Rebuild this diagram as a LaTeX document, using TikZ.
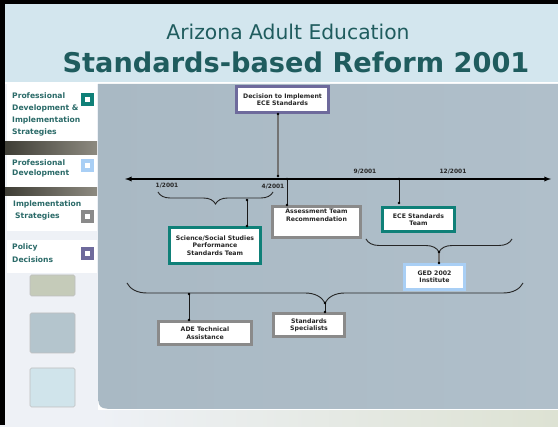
\documentclass[tikz,border=0pt]{standalone}
\usepackage{fontspec}
\setmainfont{DejaVu Sans}
\usepackage{tikz}
\usetikzlibrary{calc,positioning,decorations.pathreplacing,arrows}
\definecolor{titlebg}{HTML}{D3E6EE}
\definecolor{titletxt}{HTML}{1F5C5E}
\definecolor{sidetxt}{HTML}{2A6A68}
\definecolor{sidebg}{HTML}{EEF1F6}
\definecolor{floorbg}{HTML}{DDE2D3}
\definecolor{panelA}{HTML}{A9B9C4}
\definecolor{panelB}{HTML}{BBCAD4}
\definecolor{panelC}{HTML}{B0BFCA}
\definecolor{bandA}{HTML}{3F3E36}
\definecolor{bandB}{HTML}{8D8A80}
\definecolor{pdteal}{HTML}{0F8078}
\definecolor{pdblue}{HTML}{A9CFF5}
\definecolor{isgray}{HTML}{8A8A8A}
\definecolor{pdpurple}{HTML}{6E6A9C}
\definecolor{sqA}{HTML}{C5CBB9}
\definecolor{sqB}{HTML}{B4C5CD}
\definecolor{sqC}{HTML}{D0E4EB}
\tikzset{
  box/.style={draw, fill=white, line width=3pt, align=center, inner sep=1pt,
    font=\fontsize{6.2}{7.4}\selectfont\bfseries, text=black!85},
  date/.style={font=\fontsize{5.9}{7}\selectfont\bfseries, text=black!85, inner sep=0pt},
  conn/.style={line width=1pt, draw=black!90},
  gconn/.style={line width=1.8pt, draw=black!55},
  brc/.style={decorate, decoration={brace, mirror, amplitude=#1}, line width=0.9pt, draw=black!85},
  sidetext/.style={anchor=north west, align=left, inner sep=0pt, text=sidetxt},
  sqmark/.style={draw=#1, fill=white, line width=4pt, minimum size=9pt, inner sep=0pt},
  sidesq/.style={fill=#1, draw=black!25, line width=0.6pt, rounded corners=1.5pt}
}
\begin{document}
\begin{tikzpicture}[x=1pt,y=-1pt]
  \useasboundingbox (0,0) rectangle (558,427);
  % background and frame
  \fill[white] (0,0) rectangle (558,427);
  \fill[titlebg] (0,0) rectangle (558,82);
  \fill[sidebg] (0,84) rectangle (98,427);
  \shade[left color=sidebg, right color=floorbg] (98,411) rectangle (558,427);
  \shade[left color=panelA, middle color=panelB, right color=panelC]
    (98,84) -- (98,389) .. controls (98,409) and (98,409) .. (118,409) -- (558,409) -- (558,84) -- cycle;
  \fill[black] (0,0) rectangle (5,425);
  \fill[black] (0,0) rectangle (558,4);

  % title
  \node[font=\fontsize{20.3}{24}\selectfont, text=titletxt] (ttl) at (288,32) {Arizona Adult Education};
  \node[font=\fontsize{27.2}{32}\selectfont\bfseries, text=titletxt] (sub) at (296,62) {Standards-based Reform 2001};

  % side bar
  \fill[white] (7,84) rectangle (97,142);
  \shade[left color=bandA, right color=bandB] (5,142) rectangle (97,155);
  \fill[white] (7,155) rectangle (97,188);
  \shade[left color=bandA, right color=bandB] (5,188) rectangle (97,196);
  \fill[white] (7,196) rectangle (97,231);
  \fill[white] (7,240) rectangle (97,273);
  \node[sidetext, font=\fontsize{7.6}{11.7}\selectfont\bfseries] (pdis) at (12,93)
    {Professional\\Development \&\\Implementation\\Strategies};
  \node[sidetext, font=\fontsize{7.6}{10}\selectfont\bfseries] (pd) at (12,160)
    {Professional\\Development};
  \node[sidetext, font=\fontsize{7.6}{12}\selectfont\bfseries] (is) at (13,201)
    {Implementation\\\hspace{2pt}Strategies};
  \node[sidetext, font=\fontsize{7.6}{13}\selectfont\bfseries] (pol) at (12,244)
    {Policy\\Decisions};
  \node[sqmark=pdteal] (m1) at (87.5,99.5) {};
  \node[sqmark=pdblue] (m2) at (87.5,165.5) {};
  \node[sqmark=isgray] (m3) at (87.5,216.5) {};
  \node[sqmark=pdpurple] (m4) at (87.5,254) {};
  \draw[sidesq=sqA] (30,275) rectangle (75,296);
  \draw[sidesq=sqB] (30,313) rectangle (75,353);
  \draw[sidesq=sqC] (30,368) rectangle (75,407);

  % time line
  \coordinate (tl) at (125,179);
  \coordinate (tr) at (551,179);
  \coordinate (tdec) at (278,176);
  \coordinate (t4) at (287,179);
  \coordinate (t9) at (399,179);
  \draw[latex-latex, line width=1.3pt] (tl) -- (tr);
  \node[date] (d1) at (167,186) {1/2001};
  \node[date] (d4) at (273,187) {4/2001};
  \node[date] (d9) at (365,172) {9/2001};
  \node[date] (d12) at (453,172) {12/2001};

  % boxes
  \node[box, draw=pdpurple, minimum width=92pt, minimum height=26pt] (dec) at (282.5,99.5)
    {Decision to Implement\\ECE Standards};
  \node[box, draw=pdteal, minimum width=91pt, minimum height=36pt] (sci) at (215,245.5)
    {Science/Social Studies\\Performance\\Standards Team};
  \node[box, draw=isgray, minimum width=88pt, minimum height=31pt] (ass) at (316.5,222)
    {Assessment Team\\Recommendation\\[6pt]};
  \node[box, draw=pdteal, minimum width=72pt, minimum height=24pt] (ece) at (418.5,219.5)
    {ECE Standards\\Team};
  \node[box, draw=pdblue, minimum width=60pt, minimum height=25pt] (ged) at (434.5,277)
    {GED 2002\\Institute};
  \node[box, draw=isgray, minimum width=93pt, minimum height=23pt] (ade) at (205,333)
    {ADE Technical\\Assistance};
  \node[box, draw=isgray, minimum width=71pt, minimum height=23pt] (spec) at (309,325)
    {Standards\\Specialists};

  % braces
  \coordinate (b1) at (247,200);
  \coordinate (b2) at (439,252);
  \coordinate (b3a) at (189,294);
  \coordinate (b3) at (325,303);
  \draw[brc=12pt] (158,192) -- (273,192);
  \draw[brc=13pt] (366,239) -- (512,239);
  \draw[brc=20pt] (127,283) -- (523,283);

  % connectors
  \draw[gconn] (dec.south -| tdec) -- (tdec);
  \draw[conn] (t4) -- (ass.north -| t4);
  \draw[conn] (t9) -- ($(ece.north -| t9)+(0,-3)$);
  \draw[conn] (b1) -- (sci.north -| b1);
  \draw[gconn] (b2) -- (ged.north -| b2);
  \draw[conn] (b3a) -- (ade.north -| b3a);
  \draw[conn] (b3) -- (spec.north -| b3);
  \foreach \p in {dec.south -| tdec, tdec, t4, ass.north -| t4, t9, b1, sci.north -| b1,
                  b2, ged.north -| b2, b3a, ade.north -| b3a, b3, spec.north -| b3}
    \fill (\p) circle (1.3pt);
  \fill ($(ece.north -| t9)+(0,-3)$) circle (1.3pt);
\end{tikzpicture}
\end{document}
